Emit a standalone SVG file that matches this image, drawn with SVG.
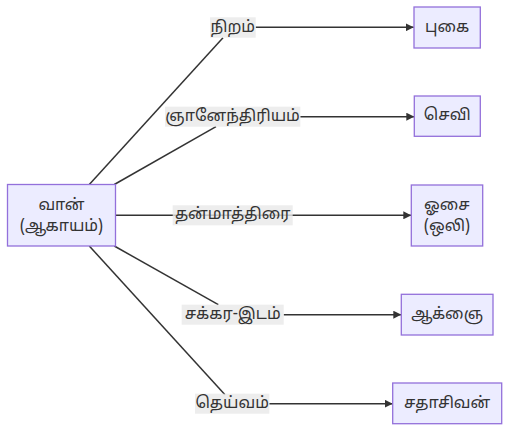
<svg xmlns="http://www.w3.org/2000/svg" width="524" height="434" viewBox="0 0 524 434">
<style>
.node rect{fill:#ECECFF;stroke:#9370DB;stroke-width:1.3px;}
text{font-family:"Noto Sans Tamil","Lohit Tamil","Noto Sans","DejaVu Sans",sans-serif;font-size:16px;fill:#333;text-anchor:middle;dominant-baseline:central;}
.edge path{fill:none;stroke:#333;stroke-width:1.5px;}
.lbl rect{fill:#E8E8E8;fill-opacity:0.8;}
</style>
<defs>
<marker id="arr" viewBox="0 0 10 10" refX="10" refY="5" markerWidth="8" markerHeight="8" markerUnits="userSpaceOnUse" orient="auto">
<path d="M0,0 L10,5 L0,10 z" fill="#333"/>
</marker>
</defs>
<g id="edges" class="edge">
<path d="M89.3,184.5 L223,37.7"/>
<path d="M255.7,27.3 L413.7,27.3" marker-end="url(#arr)"/>
<path d="M114.3,184.5 L216,126.7"/>
<path d="M300.3,116.7 L414.3,116.7" marker-end="url(#arr)"/>
<path d="M115.5,215.3 L411.3,215.3" marker-end="url(#arr)"/>
<path d="M114.3,246 L218.3,304.7"/>
<path d="M283.7,314.7 L401.3,314.7" marker-end="url(#arr)"/>
<path d="M89.3,246 L225,394.7"/>
<path d="M269.3,403.7 L392.7,403.7" marker-end="url(#arr)"/>
</g>
<g id="edge-labels">
<g class="lbl" id="lbl-niram"><rect x="210" y="17.3" width="45.7" height="20.4"/><text x="232.8" y="27.5">நிறம்</text></g>
<g class="lbl" id="lbl-gnan"><rect x="165" y="106.7" width="135.3" height="20"/><text x="232.6" y="116.7">ஞானேந்திரியம்</text></g>
<g class="lbl" id="lbl-than"><rect x="172.7" y="205.3" width="120" height="20"/><text x="232.7" y="215.3">தன்மாத்திரை</text></g>
<g class="lbl" id="lbl-chakra"><rect x="181.7" y="304.7" width="102" height="20"/><text x="232.7" y="314.7">சக்கர-இடம்</text></g>
<g class="lbl" id="lbl-deivam"><rect x="195" y="393.7" width="74.3" height="20"/><text x="232.2" y="403.7">தெய்வம்</text></g>
</g>
<g id="node-vaan" class="node"><rect x="7.5" y="184.5" width="108" height="61.5"/><text x="61.5" y="205.5">வான்</text><text x="61.5" y="227">(ஆகாயம்)</text></g>
<g id="node-pugai" class="node"><rect x="414" y="7" width="66.3" height="41"/><text x="447.2" y="27.5">புகை</text></g>
<g id="node-sevi" class="node"><rect x="414.3" y="96" width="66" height="40.3"/><text x="447.3" y="116.3">செவி</text></g>
<g id="node-osai" class="node"><rect x="411.3" y="185" width="71.4" height="61"/><text x="447" y="205.5">ஓசை</text><text x="447" y="227">(ஒலி)</text></g>
<g id="node-aakgnai" class="node"><rect x="401.3" y="294.3" width="91.7" height="40.7"/><text x="447.2" y="314.7">ஆக்ஞை</text></g>
<g id="node-sadasivan" class="node"><rect x="392.7" y="383" width="109" height="40.7"/><text x="447.2" y="403.5">சதாசிவன்</text></g>
</svg>
